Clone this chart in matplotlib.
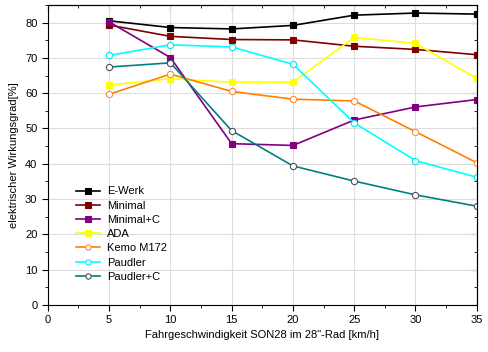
#!/usr/bin/env python3
"""Wirkungsgrad vs. Fahrgeschwindigkeit for several dynamo chargers."""

import matplotlib.pyplot as plt
from matplotlib.ticker import MultipleLocator

plt.rcParams["font.family"] = ["Liberation Sans", "DejaVu Sans"]
plt.rcParams["font.size"] = 8

speeds = [5, 10, 15, 20, 25, 30, 35]

e_werk = [80.5, 78.6, 78.2, 79.2, 82.1, 82.7, 82.4]
minimal = [79.3, 76.1, 75.2, 75.1, 73.3, 72.4, 70.9]
minimal_c = [80.2, 70.1, 45.7, 45.2, 52.4, 56.1, 58.2]
ada = [62.3, 64.1, 63.1, 63.1, 75.8, 74.1, 64.2]
kemo = [59.7, 65.4, 60.5, 58.3, 57.8, 49.1, 40.3]
paudler = [70.7, 73.7, 73.1, 68.2, 51.6, 40.9, 36.2]
paudler_c = [67.4, 68.6, 49.4, 39.4, 35.1, 31.2, 28.0]

series = [
    ("E-Werk", e_werk, "#000000", "s", "#000000", "#000000"),
    ("Minimal", minimal, "#800000", "s", "#800000", "#800000"),
    ("Minimal+C", minimal_c, "#800080", "s", "#800080", "#800080"),
    ("ADA", ada, "#ffff00", "s", "#ffff00", "#ffff00"),
    ("Kemo M172", kemo, "#ff8000", "o", "white", "#ff8c3a"),
    ("Paudler", paudler, "#00ffff", "o", "white", "#00e8f0"),
    ("Paudler+C", paudler_c, "#008080", "o", "white", "#505050"),
]

fig = plt.figure(figsize=(4.88, 3.52), dpi=100)
ax = fig.add_axes([0.098, 0.1335, 0.879, 0.8525])

for label, values, color, marker, face, edge in series:
    ax.plot(speeds, values, color=color, lw=1.2, marker=marker, ms=4.5,
            mfc=face, mec=edge, mew=0.8, label=label)

ax.set_xlim(0, 35)
ax.set_ylim(0, 85)
ax.xaxis.set_major_locator(MultipleLocator(5))
ax.xaxis.set_minor_locator(MultipleLocator(2.5))
ax.yaxis.set_major_locator(MultipleLocator(10))
ax.yaxis.set_minor_locator(MultipleLocator(5))
ax.grid(True, which="major", color="#dddddd", lw=0.8)
ax.set_axisbelow(True)
ax.tick_params(which="both", direction="out", top=False, right=False)
ax.tick_params(which="major", length=4)
ax.tick_params(which="minor", length=2.5)

# inward ticks on top/right, no labels
secx = ax.secondary_xaxis("top")
secx.xaxis.set_major_locator(MultipleLocator(5))
secx.xaxis.set_minor_locator(MultipleLocator(2.5))
secx.tick_params(which="both", direction="in", labeltop=False)
secx.tick_params(which="major", length=4)
secx.tick_params(which="minor", length=2.5)
secy = ax.secondary_yaxis("right")
secy.yaxis.set_major_locator(MultipleLocator(10))
secy.yaxis.set_minor_locator(MultipleLocator(5))
secy.tick_params(which="both", direction="in", labelright=False)
secy.tick_params(which="major", length=4)
secy.tick_params(which="minor", length=2.5)

ax.set_xlabel("Fahrgeschwindigkeit SON28 im 28\"-Rad [km/h]", labelpad=3)
ax.set_ylabel("elektrischer Wirkungsgrad[%]", labelpad=4)

ax.legend(loc="upper left", bbox_to_anchor=(0.055, 0.41), frameon=False,
          handlelength=2.2, handletextpad=0.6, labelspacing=0.38,
          borderaxespad=0, fontsize=8, markerscale=0.85)

fig.savefig("out.png", dpi=100)
